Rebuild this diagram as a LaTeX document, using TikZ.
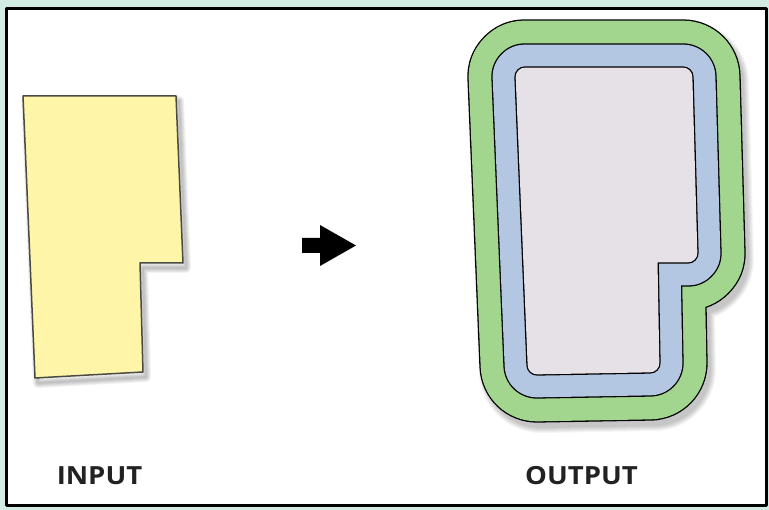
\documentclass[tikz,border=0pt]{standalone}
\usepackage{fontspec}
\setsansfont{Open Sans}
\usetikzlibrary{positioning}
\definecolor{frame}{HTML}{D2EBE3}
\definecolor{parcel}{HTML}{FFF5A8}
\definecolor{parceledge}{HTML}{4A4A42}
\definecolor{ringgreen}{HTML}{A2D68F}
\definecolor{ringblue}{HTML}{B4C7E2}
\definecolor{core}{HTML}{E5E1E7}
\definecolor{textdark}{HTML}{222222}
\tikzset{
  caption/.style={inner sep=0pt, text=textdark,
    font=\sffamily\bfseries\fontsize{25}{25}\selectfont}
}

\begin{document}
\begin{tikzpicture}[x=1pt, y=-1pt, line join=round]
  \useasboundingbox (0,0) rectangle (769,510);
  % Frame
  \fill[frame] (0,0) rectangle (769,510);
  \filldraw[fill=white, draw=black, line width=3pt] (6.5,9) rectangle (766.5,505.5);
  % Input parcel with soft shadow
  \foreach \k in {1,...,5}
    \draw[black, opacity=0.05, line width={2*\k*1pt}, shift={(3,5)}]
      (23,96) -- (176,96) -- (183,263) -- (140,263) -- (143,372) -- (35,378) -- cycle;
  \filldraw[fill=parcel, draw=parceledge, line width=1.5pt]
    (23,96) -- (176,96) -- (183,263) -- (140,263) -- (143,372) -- (35,378) -- cycle;
  % Arrow
  \fill[black] (302,238) -- (320,238) -- (320,225) -- (356,245.5)
    -- (320,266) -- (320,253) -- (302,253) -- cycle;
  % Output: buffer rings round the parcel
  \foreach \k in {0,...,5}
    \draw[black, opacity=0.04, line width={(114+2*\k)*1pt}, shift={(4,6)}]
      (525,77) -- (683,77) -- (688,253) -- (648,253) -- (650,363) -- (537,365) -- cycle;
  \foreach \w/\c in {115.3/black, 112.7/ringgreen, 67.3/black, 64.7/ringblue,
                     21.3/black, 18.7/core}
    \filldraw[draw=\c, fill=\c, line width=\w pt]
      (525,77) -- (683,77) -- (688,253) -- (648,253) -- (650,363) -- (537,365) -- cycle;
  % Labels
  \node[caption] (input) at (99.5,476) {\scalebox{1.1}[1]{INPUT}};
  \node[caption] (output) at (581.5,476) {\scalebox{1.1}[1]{OUTPUT}};
\end{tikzpicture}
\end{document}
